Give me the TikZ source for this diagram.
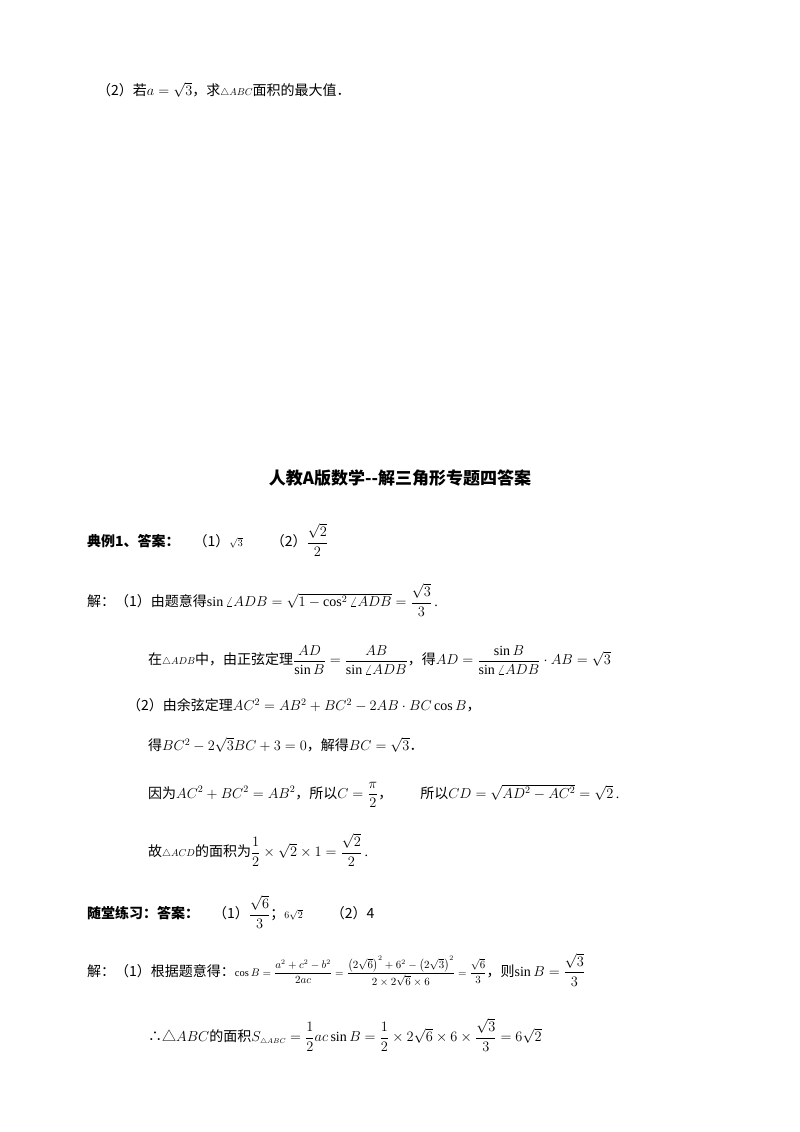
\documentclass[tikz,border=0pt]{standalone}
\usepackage{amsmath}
\usepackage{fontspec}
\setmainfont{Liberation Serif}
\newfontfamily\cjk{Noto Sans CJK SC}
\newcommand{\zh}[1]{{\cjk #1}}
\begin{document}
\begin{tikzpicture}[x=1pt,y=-1pt,
  txt/.style={anchor=west,inner sep=0pt,font=\fontsize{14}{16}\selectfont},
  ttl/.style={anchor=center,inner sep=0pt,font=\fontsize{17}{20}\selectfont\cjk\bfseries}]
\useasboundingbox[fill=white] (0,0) rectangle (800,1132);
\node[txt] (l1) at (97,90) {\zh{（2）若}$a=\sqrt3$\zh{，求}$\scriptstyle\triangle ABC$\zh{面积的最大值．}};
\node[ttl] (t) at (400,478) {人教A版数学--解三角形专题四答案};
\node[txt] (l2) at (87,540) {\zh{\bfseries 典例1、答案：}\quad\zh{（1）}$\scriptstyle\sqrt3$\qquad\zh{（2）}$\dfrac{\sqrt2}{2}$};
\node[txt] (l3) at (87,600) {\zh{解：（1）由题意得}$\sin\angle ADB=\sqrt{1-\cos^2\angle ADB}=\dfrac{\sqrt3}{3}$\,.};
\node[txt] (l4) at (148,660) {\zh{在}$\scriptstyle\triangle ADB$\zh{中，由正弦定理}$\dfrac{AD}{\sin B}=\dfrac{AB}{\sin\angle ADB}$\zh{，得}$AD=\dfrac{\sin B}{\sin\angle ADB}\cdot AB=\sqrt3$};
\node[txt] (l5) at (127,705) {\zh{（2）由余弦定理}$AC^2=AB^2+BC^2-2AB\cdot BC\cos B$\zh{，}};
\node[txt] (l6) at (148,745) {\zh{得}$BC^2-2\sqrt3BC+3=0$\zh{，解得}$BC=\sqrt3$\zh{．}};
\node[txt] (l7) at (148,795) {\zh{因为}$AC^2+BC^2=AB^2$\zh{，所以}$C=\dfrac{\pi}{2}$\zh{，}\qquad\zh{所以}$CD=\sqrt{AD^2-AC^2}=\sqrt2$\,.};
\node[txt] (l8) at (148,850) {\zh{故}$\scriptstyle\triangle ACD$\zh{的面积为}$\dfrac12\times\sqrt2\times1=\dfrac{\sqrt2}{2}$\,.};
\node[txt] (l9) at (87,912) {\zh{\bfseries 随堂练习：答案：}\quad\zh{（1）}$\dfrac{\sqrt6}{3}$\zh{；}$\scriptstyle 6\sqrt2$\qquad\zh{（2）4}};
\node[txt] (l10) at (87,970) {\zh{解：（1）根据题意得：}{\fontsize{10.5}{12}\selectfont$\cos B=\dfrac{a^2+c^2-b^2}{2ac}=\dfrac{\left(2\sqrt6\right)^2+6^2-\left(2\sqrt3\right)^2}{2\times2\sqrt6\times6}=\dfrac{\sqrt6}{3}$}\zh{，则}$\sin B=\dfrac{\sqrt3}{3}$};
\node[txt] (l11) at (148,1035) {\zh{∴△}$ABC$\zh{的面积}$S_{\scriptscriptstyle\triangle ABC}=\dfrac12 ac\sin B=\dfrac12\times2\sqrt6\times6\times\dfrac{\sqrt3}{3}=6\sqrt2$};
\end{tikzpicture}
\end{document}
